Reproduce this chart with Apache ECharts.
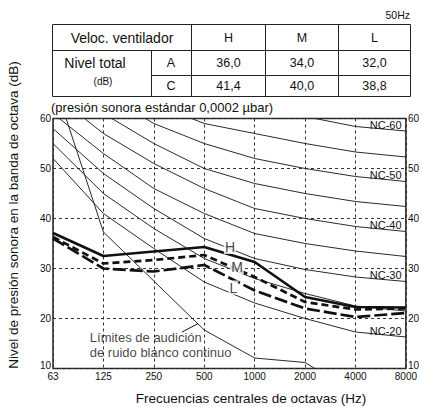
<!DOCTYPE html>
<html>
<head>
<meta charset="utf-8">
<script src="https://cdn.jsdelivr.net/npm/echarts@6/dist/echarts.min.js"></script>
<style>
html,body{margin:0;padding:0;background:#fff;}
#chart{width:422px;height:407px;}
</style>
</head>
<body>
<div id="chart"></div>
<script>
// ---- data ----
const freqLabels = ['63','125','250','500','1000','2000','4000','8000'];
const nc20 = [52, 41, 34, 27.3, 23.1, 20, 17.3, 16.3];
const nc25 = [55, 45, 38, 32, 28, 25, 22.5, 21.5];
const nc30 = [58, 49, 42, 36, 32, 29.8, 28.3, 27.4];
const nc35 = [61, 53, 46, 41, 37, 35, 33.5, 32.4];
const nc40 = [65, 57, 51, 46, 42, 40, 38.4, 37.4];
const nc45 = [68, 61, 55, 50, 47, 45, 43.4, 42.4];
const nc50 = [72, 65, 59, 55, 52, 50, 48.4, 47.4];
const nc55 = [75, 68, 63, 59, 57, 55, 53.3, 52.3];
const nc60 = [78, 72, 68, 64, 62, 60.4, 58.4, 57.5];
const hearing = [68, 37.3, 27.5, 17.7, 12.1, 11.2, 5, null];
const levelH = [37.1, 32.5, 33.4, 34.3, 31.3, 24.3, 22.3, 22.2];
const levelM = [36.3, 31.0, 31.7, 32.7, 28.3, 23.3, 21.8, 22.0];
const levelL = [36.0, 30.0, 29.4, 30.7, 25.6, 22.0, 20.3, 21.1];
const ncNames = ['NC-20','NC-25','NC-30','NC-35','NC-40','NC-45','NC-50','NC-55','NC-60'];
const ncLabelled = ['NC-20','NC-30','NC-40','NC-50','NC-60'];
const speedNames = ['H','M','L'];
const levelA = ['36,0','34,0','32,0'];
const levelC = ['41,4','40,0','38,8'];

// ---- helpers ----
const FONT = 'Liberation Sans, Arial, Helvetica, sans-serif';
const INK = '#111';
const toPairs = arr => arr.map((v,i)=> v==null ? null : [i,v]).filter(p=>p);
const valAt = (arr, x) => { const i = Math.floor(x), f = x - i; return arr[i] + (arr[i+1]-arr[i])*f; };

const ncData = [nc20, nc25, nc30, nc35, nc40, nc45, nc50, nc55, nc60];
const series = [];
ncData.forEach((arr, k) => {
  const name = ncNames[k];
  const s = {
    name, type:'line', data: toPairs(arr), symbol:'none', silent:true, z:2,
    lineStyle:{color:'#2a2a2a', width:1}, animation:false
  };
  if (ncLabelled.includes(name)) {
    const lx = 6.6;
    s.markPoint = {
      symbol:'circle', symbolSize:0, silent:true, animation:false,
      data:[{coord:[lx, valAt(arr, lx)], value:name}],
      label:{show:true, position:'top', distance:-1, formatter:name,
        fontSize:11, fontFamily:FONT, color:INK}
    };
  }
  series.push(s);
});

// hearing threshold
series.push({
  name:'hearing', type:'line', data: toPairs(hearing), symbol:'none', silent:true, z:2,
  lineStyle:{color:'#2a2a2a', width:1}, animation:false,
  markLine:{
    silent:true, animation:false, symbol:['none','arrow'], symbolSize:[0,7],
    lineStyle:{color:INK, width:1, type:'solid'}, label:{show:false},
    data:[[{coord:[2.56,17.3]},{coord:[2.88,19.0]}]]
  }
});

// H M L
const styles = [
  {type:'solid', width:2.7},
  {type:[7,4], width:2.7},
  {type:[13,4], width:2.7}
];
[levelH, levelM, levelL].forEach((arr,k)=>{
  series.push({
    name: speedNames[k], type:'line', data: toPairs(arr), symbol:'none', silent:true, z:3,
    lineStyle:{color:INK, width:styles[k].width, type:styles[k].type}, animation:false
  });
});

// labels H, M, L and annotation
const labelPos = [[3.51,34.3],[3.65,30.3],[3.58,26.2]];
series.push({
  type:'scatter', symbolSize:0, silent:true, z:6, animation:false,
  data: labelPos.map((p,k)=>({value:p, name:speedNames[k]})),
  label:{show:true, position:'inside', formatter: p=>p.name, fontSize:14, fontFamily:FONT,
    color:INK, backgroundColor:'#fff', padding:[0,1,0,1]}
});
series.push({
  type:'scatter', symbolSize:0, silent:true, z:6, animation:false,
  data:[{value:[0.73,14.7], name:'Límites de audición\nde ruido blanco continuo'}],
  label:{show:true, position:'right', distance:0, formatter:p=>p.name, fontSize:13,
    lineHeight:15, fontFamily:FONT, color:INK, align:'left'}
});

// ---- table graphic ----
const colX = [52.5, 151.5, 191.5, 265.5, 338.5, 410.5];
const rowY = [24.5, 50.5, 75.5, 96.5];
const lineStyle = {stroke:'#222', lineWidth:1};
const g = [];
const hl = (x1,x2,y)=>g.push({type:'line', shape:{x1,y1:y,x2,y2:y}, style:lineStyle, silent:true});
const vl = (x,y1,y2)=>g.push({type:'line', shape:{x1:x,y1,x2:x,y2}, style:lineStyle, silent:true});
hl(colX[0], colX[5], rowY[0]);
hl(colX[0], colX[5], rowY[1]);
hl(colX[1], colX[5], rowY[2]);
hl(colX[0], colX[5], rowY[3]);
vl(colX[0], rowY[0], rowY[3]);
vl(colX[1], rowY[1], rowY[3]);
[2,3,4,5].forEach(i=>vl(colX[i], rowY[0], rowY[3]));
const txt = (text,x,y,size,align)=>g.push({type:'text', silent:true, style:{text, x, y,
  textAlign:align||'center', textVerticalAlign:'middle', fontSize:size, fontFamily:FONT, fill:INK}});
txt('50Hz', 410, 15, 10.5, 'right');
txt('Veloc. ventilador', 122, 37.5, 14);
speedNames.forEach((s,k)=>txt(s, (colX[k+2]+colX[k+3])/2, 37.5, 12.5));
txt('Nivel total', 95, 63, 14);
txt('(dB)', 103, 81, 10);
txt('A', 171, 62.5, 12.5);
txt('C', 171, 85.5, 12.5);
levelA.forEach((s,k)=>txt(s, (colX[k+2]+colX[k+3])/2, 62.5, 12.5));
levelC.forEach((s,k)=>txt(s, (colX[k+2]+colX[k+3])/2, 85.5, 12.5));
txt('(presión sonora estándar 0,0002 µbar)', 51, 107, 13, 'left');
txt('Frecuencias centrales de octavas (Hz)', 251, 398, 13.5);
g.push({type:'text', silent:true, x:13, y:215, rotation:Math.PI/2,
  style:{text:'Nivel de presión sonora en la banda de octava (dB)', x:0, y:0,
  textAlign:'center', textVerticalAlign:'middle', fontSize:13.5, fontFamily:FONT, fill:INK}});

const yLabelFmt = v => v === 10 ? '{lift|10}' : String(v);
const yRich = {lift:{fontSize:10, fontFamily:FONT, color:INK, padding:[0,0,7,0]}};

const chart = echarts.init(document.getElementById('chart'), null, {renderer:'svg'});
chart.setOption({
  animation:false,
  backgroundColor:'#fff',
  grid:{left:53, right:13, top:118.5, bottom:38.5, show:true, borderColor:'#222', borderWidth:1.5, backgroundColor:'transparent'},
  xAxis:{type:'value', min:0, max:7, interval:1,
    axisLine:{show:false}, axisTick:{show:false},
    axisLabel:{formatter:v=>freqLabels[v], fontSize:10, fontFamily:FONT, color:INK, margin:3},
    splitLine:{show:true, lineStyle:{color:'#333', width:1, type:[3,3]}}},
  yAxis:[
    {type:'value', min:10, max:60, interval:10, position:'left',
      axisLine:{show:false}, axisTick:{show:false},
      axisLabel:{fontSize:10, fontFamily:FONT, color:INK, margin:2, formatter:yLabelFmt, rich:yRich},
      splitLine:{show:true, lineStyle:{color:'#333', width:1, type:[3,3]}}},
    {type:'value', min:10, max:60, interval:10, position:'right',
      axisLine:{show:false}, axisTick:{show:false},
      axisLabel:{fontSize:10, fontFamily:FONT, color:INK, margin:2, formatter:yLabelFmt, rich:yRich},
      splitLine:{show:false}}
  ],
  series,
  graphic: g
});
</script>
</body>
</html>
